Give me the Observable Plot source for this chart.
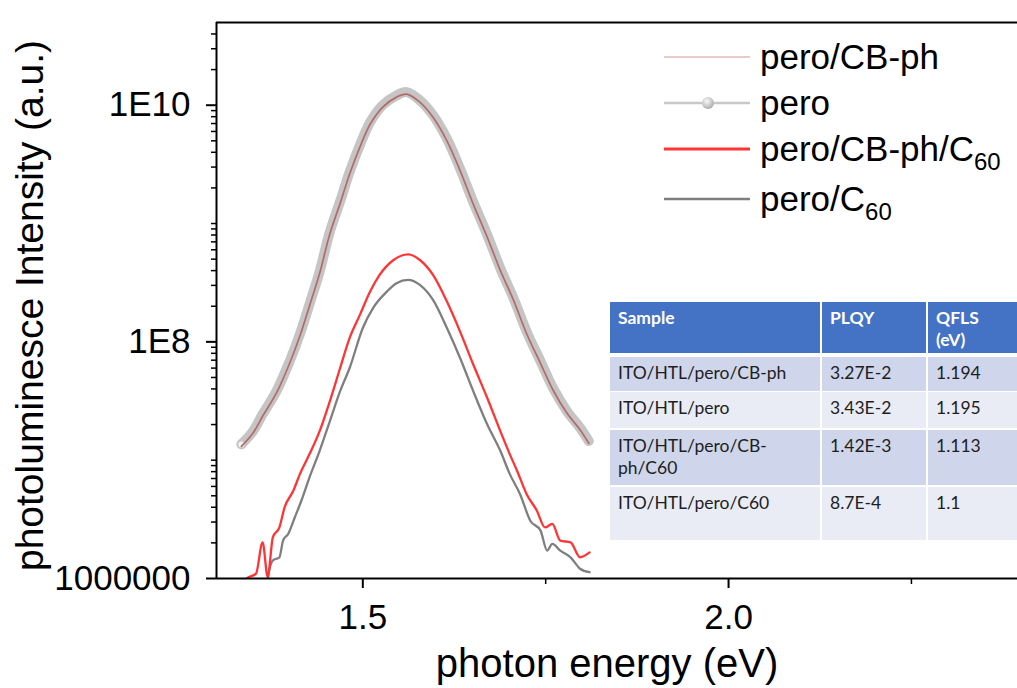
<!DOCTYPE html>
<html><head><meta charset="utf-8">
<script src="https://cdn.jsdelivr.net/npm/d3@7"></script>
<script src="https://cdn.jsdelivr.net/npm/@observablehq/plot@0.6"></script>
<style>
body{margin:0;background:#fff;}
#wrap{position:relative;width:1017px;height:688px;overflow:hidden;font-family:"Liberation Sans",Arial,sans-serif;background:#fff;}
.leg{position:absolute;left:664px;height:50px;display:flex;align-items:center;font-size:35px;color:#000;white-space:nowrap;}
.leg svg{margin-right:10px;}
.leg sub{font-size:24px;vertical-align:-9px;line-height:0;}
.cell{position:absolute;box-sizing:border-box;padding:5px 8px;font-family:Lato,"Liberation Sans",sans-serif;font-size:17.5px;color:#1e1e1e;line-height:22px;}
.hd{background:#4472C4;color:#fff;font-weight:bold;}
.r1{background:#CFD5EA;}
.r2{background:#E9EBF5;}
</style></head><body><div id="wrap"></div>
<script>
// ---- data ----
const seriesNames = ["pero/CB-ph", "pero", "pero/CB-ph/C60", "pero/C60"];

const energyPero = [1.334,1.350,1.363,1.382,1.400,1.414,1.427,1.441,1.455,1.469,1.482,1.496,1.510,1.527,1.546,1.560,1.578,1.596,1.615,1.633,1.651,1.670,1.688,1.706,1.724,1.743,1.760,1.779,1.797,1.809];
const intensityPero = [1.36e7,1.76e7,2.44e7,3.83e7,6.85e7,1.16e8,2.07e8,3.93e8,8.53e8,1.54e9,2.73e9,4.60e9,7.19e9,1.00e10,1.21e10,1.29e10,1.10e10,8.24e9,5.20e9,2.91e9,1.52e9,8.04e8,4.19e8,2.34e8,1.22e8,6.85e7,4.08e7,2.60e7,1.88e7,1.45e7];

const energyCBph = [1.334,1.350,1.363,1.382,1.400,1.414,1.427,1.441,1.455,1.469,1.482,1.496,1.510,1.527,1.546,1.560,1.578,1.596,1.615,1.633,1.651,1.670,1.688,1.706,1.724,1.743,1.760,1.779,1.797,1.809];
const intensityCBph = [1.31e7,1.70e7,2.35e7,3.70e7,6.60e7,1.12e8,2.00e8,3.80e8,8.20e8,1.48e9,2.62e9,4.42e9,6.90e9,9.60e9,1.17e10,1.24e10,1.06e10,7.90e9,5.00e9,2.80e9,1.46e9,7.70e8,4.02e8,2.25e8,1.17e8,6.56e7,3.92e7,2.50e7,1.81e7,1.39e7];

const energyCBphC60 = [1.338,1.341,1.354,1.363,1.370,1.377,1.386,1.393,1.405,1.414,1.427,1.441,1.455,1.469,1.482,1.496,1.510,1.523,1.542,1.562,1.578,1.596,1.615,1.633,1.651,1.670,1.688,1.701,1.711,1.724,1.738,1.749,1.759,1.770,1.784,1.797,1.810];
const intensityCBphC60 = [8.9e5,1.00e6,1.10e6,2.02e6,1.03e6,2.23e6,2.70e6,3.98e6,5.51e6,7.62e6,1.12e7,1.76e7,3.16e7,6.01e7,1.08e8,1.69e8,2.66e8,3.68e8,4.92e8,5.48e8,4.92e8,3.68e8,2.19e8,1.22e8,6.43e7,3.37e7,1.76e7,1.12e7,8.11e6,5.16e6,3.74e6,2.70e6,2.89e6,2.09e6,2.02e6,1.51e6,1.66e6];

const energyC60 = [1.369,1.370,1.377,1.386,1.391,1.398,1.407,1.416,1.427,1.441,1.455,1.469,1.482,1.500,1.514,1.533,1.546,1.562,1.578,1.596,1.615,1.633,1.651,1.670,1.688,1.701,1.715,1.729,1.743,1.752,1.759,1.770,1.784,1.797,1.810];
const intensityC60 = [8.9e5,9.9e5,1.42e6,1.51e6,2.09e6,2.38e6,3.28e6,4.54e6,7.13e6,1.20e7,2.14e7,3.83e7,6.01e7,1.31e8,1.93e8,2.66e8,3.13e8,3.34e8,3.03e8,2.26e8,1.31e8,7.31e7,3.83e7,2.01e7,1.20e7,7.62e6,5.16e6,3.08e6,2.54e6,1.72e6,1.96e6,1.72e6,1.51e6,1.21e6,1.13e6];

const xMajorTicks = [1.5, 2.0];
const xMinorTicks = [1.75, 2.25];
const yMajorTicks = [1e6, 1e8, 1e10];
const yMajorLabels = ["1000000", "1E8", "1E10"];
const yMinorTicks = [2e6,3e6,4e6,5e6,6e6,7e6,8e6,9e6,1e7,2e7,3e7,4e7,5e7,6e7,7e7,8e7,9e7,
  2e8,3e8,4e8,5e8,6e8,7e8,8e8,9e8,1e9,2e9,3e9,4e9,5e9,6e9,7e9,8e9,9e9,2e10,3e10,4e10];

const tableHeader = ["Sample", "PLQY", "QFLS<br>(eV)"];
const tableSamples = ["ITO/HTL/pero/CB-ph", "ITO/HTL/pero", "ITO/HTL/pero/CB-<br>ph/C60", "ITO/HTL/pero/C60"];
const tablePLQY = ["3.27E-2", "3.43E-2", "1.42E-3", "8.7E-4"];
const tableQFLS = ["1.194", "1.195", "1.113", "1.1"];

// ---- build tables ----
const toRows = (xs, ys) => xs.map((e, i) => ({energy: e, intensity: ys[i]}));
const pero = toRows(energyPero, intensityPero);
const cbph = toRows(energyCBph, intensityCBph);
const cbphc60 = toRows(energyCBphC60, intensityCBphC60);
const c60 = toRows(energyC60, intensityC60);

const xDomain = [1.3, 2.395];
const yDomain = [1e6, 5e10];

const chart = Plot.plot({
  width: 1017, height: 688,
  marginLeft: 216, marginRight: 0, marginTop: 22, marginBottom: 110,
  style: {fontFamily: "'Liberation Sans', Arial, sans-serif", color: "#000", background: "#fff", overflow: "visible"},
  x: {domain: xDomain},
  y: {type: "log", domain: yDomain},
  marks: [
    Plot.line(pero, {x: "energy", y: "intensity", stroke: "#c5c5c5", strokeWidth: 10, strokeLinecap: "round", curve: "catmull-rom", clip: true}),
    Plot.dot(pero.slice(0, 1), {x: "energy", y: "intensity", r: 3, fill: "#f2f2f2", clip: true}),
    Plot.line(cbph, {x: "energy", y: "intensity", stroke: "#b46a6a", strokeWidth: 1.7, curve: "catmull-rom", clip: true}),
    Plot.line(c60, {x: "energy", y: "intensity", stroke: "#7f7f7f", strokeWidth: 2.3, curve: "monotone-x", clip: true}),
    Plot.line(cbphc60, {x: "energy", y: "intensity", stroke: "#ff3535", strokeWidth: 2.3, curve: "monotone-x", clip: true}),
    Plot.ruleX([xDomain[0]], {stroke: "#000", strokeWidth: 2}),
    Plot.ruleY([yDomain[0]], {stroke: "#000", strokeWidth: 2}),
    Plot.ruleY([yDomain[1]], {stroke: "#000", strokeWidth: 2}),
    Plot.axisY(yMajorTicks, {tickSize: 10, tickPadding: 16, strokeWidth: 2, fontSize: 35,
      tickFormat: (d) => yMajorLabels[yMajorTicks.indexOf(d)], label: null}),
    Plot.axisY(yMinorTicks, {tickSize: 5, strokeWidth: 1.5, tickFormat: () => "", label: null}),
    Plot.axisX(xMajorTicks, {tickSize: 10, tickPadding: 16, strokeWidth: 2, fontSize: 35, tickFormat: d3.format(".1f"), label: null}),
    Plot.axisX(xMinorTicks, {tickSize: 6, strokeWidth: 1.5, tickFormat: () => "", label: null}),
    Plot.text(["photon energy (eV)"], {text: (d) => d, frameAnchor: "bottom", textAnchor: "middle", lineAnchor: "bottom", dy: 98, dx: -10, fontSize: 40}),
    Plot.text(["photoluminesce Intensity (a.u.)"], {text: (d) => d, frameAnchor: "left", textAnchor: "middle", rotate: -90, lineAnchor: "top", dx: -201, dy: 5, fontSize: 39})
  ]
});
const wrap = document.getElementById("wrap");
wrap.appendChild(chart);

// ---- legend ----
const legendItems = [
  {name: "pero/CB-ph", html: "pero/CB-ph", y: 57, color: "#e7cccc", w: 2, marker: false},
  {name: "pero", html: "pero", y: 103, color: "#c8c8c8", w: 2.5, marker: true},
  {name: "pero/CB-ph/C60", html: "pero/CB-ph/C<sub>60</sub>", y: 149, color: "#ff3535", w: 3, marker: false},
  {name: "pero/C60", html: "pero/C<sub>60</sub>", y: 199, color: "#7f7f7f", w: 2.5, marker: false}
];
legendItems.forEach((it) => {
  const d = document.createElement("div");
  d.className = "leg";
  d.style.top = (it.y - 25) + "px";
  const marker = it.marker ? `<defs><radialGradient id="sph" cx="0.4" cy="0.35" r="0.7"><stop offset="0" stop-color="#fafafa"/><stop offset="1" stop-color="#a8a8a8"/></radialGradient></defs><circle cx="44" cy="25" r="6" fill="url(#sph)"/>` : "";
  d.innerHTML = `<svg width="86" height="50"><line x1="0" x2="86" y1="25" y2="25" stroke="${it.color}" stroke-width="${it.w}"/>${marker}</svg><span>${it.html}</span>`;
  wrap.appendChild(d);
});

// ---- table ----
const colX = [610, 822, 928];
const colW = [210, 104, 95];
const rowY = [302, 357, 392, 430, 487];
const rowH = [51, 34, 36, 55, 53];
const tableRows = [tableHeader].concat(tableSamples.map((s, i) => [s, tablePLQY[i], tableQFLS[i]]));
tableRows.forEach((row, r) => {
  row.forEach((txt, c) => {
    const d = document.createElement("div");
    d.className = "cell " + (r === 0 ? "hd" : (r % 2 === 1 ? "r1" : "r2"));
    d.style.left = colX[c] + "px";
    d.style.top = rowY[r] + "px";
    d.style.width = colW[c] + "px";
    d.style.height = rowH[r] + "px";
    d.innerHTML = txt;
    wrap.appendChild(d);
  });
});
</script>
</body></html>
